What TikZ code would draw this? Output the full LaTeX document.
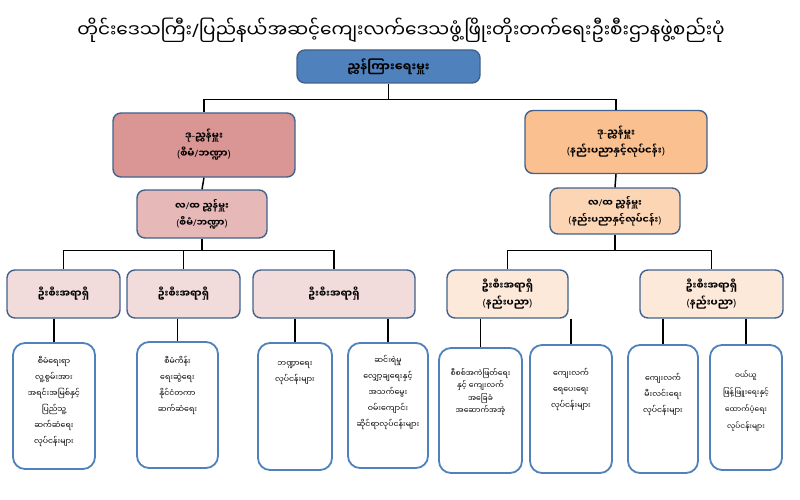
\documentclass[tikz,border=0pt]{standalone}
\usepackage{fontspec}
\newfontfamily\mmfont[Script=Myanmar]{Noto Sans Myanmar UI}
\newfontfamily\latinsans{Noto Sans}
\newcommand{\signo}[1]{{\latinsans #1}}
\usetikzlibrary{positioning}

\definecolor{azul}{HTML}{4F81BD}
\definecolor{borde}{HTML}{41628C}
\definecolor{rosaA}{HTML}{D99694}
\definecolor{rosaB}{HTML}{E6B9B8}
\definecolor{rosaC}{HTML}{F2DCDB}
\definecolor{naranjaA}{HTML}{FAC090}
\definecolor{naranjaB}{HTML}{FCD5B5}
\definecolor{naranjaC}{HTML}{FDE9D9}

\begin{document}
\begin{tikzpicture}[x=1pt, y=-1pt, font=\mmfont,
    cargo/.style={draw=borde, line width=1.4pt, rounded corners=8pt, align=center, inner sep=0pt},
    hoja/.style={draw=azul, line width=1.8pt, rounded corners=12pt, fill=white, inner sep=0pt},
    textohoja/.style={anchor=north, align=center, inner sep=0pt, font=\mmfont\fontsize{7.8}{16}\selectfont},
    linea/.style={line width=1.5pt}]
            \useasboundingbox (0,0) rectangle (800,500);

            % Titulo
            \node[font=\mmfont\fontsize{18.5}{20}\selectfont] (titulo) at (401,30) {တိုင်းဒေသကြီး\signo{/}ပြည်နယ်အဆင့်ကျေးလက်ဒေသဖွံ့ဖြိုးတိုးတက်ရေးဦးစီးဌာနဖွဲ့စည်းပုံ};

            % Niveles superiores
            \node[cargo, fill=azul, minimum width=183, minimum height=33, font=\mmfont\bfseries\fontsize{12}{14}\selectfont] (jefe) at (388.5,66.5) {ညွှန်ကြားရေးမှူး};
            \node[cargo, fill=rosaA, minimum width=182, minimum height=64, font=\mmfont\bfseries\fontsize{10}{18}\selectfont] (subA) at (204,145) {ဒု\signo{-}ညွှန်မှူး\\\signo{(}စီမံ\signo{/}ဘဏ္ဍာ\signo{)}};
            \node[cargo, fill=naranjaA, minimum width=182, minimum height=63, font=\mmfont\bfseries\fontsize{10}{18}\selectfont] (subB) at (616,142) {ဒု\signo{-}ညွှန်မှူး\\\signo{(}နည်းပညာနှင့်လုပ်ငန်း\signo{)}};
            \node[cargo, fill=rosaB, minimum width=130, minimum height=48, font=\mmfont\bfseries\fontsize{9.5}{17}\selectfont] (lfA) at (202,214) {လ\signo{/}ထ ညွှန်မှူး\\\signo{(}စီမံ\signo{/}ဘဏ္ဍာ\signo{)}};
            \node[cargo, fill=naranjaB, minimum width=130, minimum height=46, font=\mmfont\bfseries\fontsize{9.5}{17}\selectfont] (lfB) at (615,211) {လ\signo{/}ထ ညွှန်မှူး\\\signo{(}နည်းပညာနှင့်လုပ်ငန်း\signo{)}};

            % Oficiales
            \node[cargo, fill=rosaC, minimum width=113, minimum height=48, font=\mmfont\bfseries\fontsize{10}{17}\selectfont] (ofA) at (63.5,294) {ဦးစီးအရာရှိ};
            \node[cargo, fill=rosaC, minimum width=113, minimum height=48, font=\mmfont\bfseries\fontsize{10}{17}\selectfont] (ofB) at (183.5,294) {ဦးစီးအရာရှိ};
            \node[cargo, fill=rosaC, minimum width=162, minimum height=48, font=\mmfont\bfseries\fontsize{10}{17}\selectfont] (ofC) at (334,294) {ဦးစီးအရာရှိ};
            \node[cargo, fill=naranjaC, minimum width=121, minimum height=48, font=\mmfont\bfseries\fontsize{10}{17}\selectfont] (ofD) at (507.5,294) {ဦးစီးအရာရှိ\\\signo{(}နည်းပညာ\signo{)}};
            \node[cargo, fill=naranjaC, minimum width=143, minimum height=48, font=\mmfont\bfseries\fontsize{10}{17}\selectfont] (ofE) at (711.5,294) {ဦးစီးအရာရှိ\\\signo{(}နည်းပညာ\signo{)}};

            % Secciones
            \node[hoja, minimum width=82, minimum height=126] (hA) at (54,406) {};
            \node[hoja, minimum width=81, minimum height=126] (hB) at (177.5,405) {};
            \node[hoja, minimum width=74, minimum height=127] (hC) at (295,406.5) {};
            \node[hoja, minimum width=80, minimum height=125] (hD) at (388,405.5) {};
            \node[hoja, minimum width=83, minimum height=125] (hE) at (480.5,410.5) {};
            \node[hoja, minimum width=82, minimum height=128] (hF) at (571,409) {};
            \node[hoja, minimum width=70, minimum height=128] (hG) at (663,409) {};
            \node[hoja, minimum width=72, minimum height=125] (hH) at (746,407.5) {};

            \node[textohoja, below=14pt of hA.north] (tA) {စီမံရေးရာ\\လူ့စွမ်းအား\\အရင်းအမြစ်နှင့်\\ပြည်သူ့\\ဆက်ဆံရေး\\လုပ်ငန်းများ};
            \node[textohoja, below=15pt of hB.north] (tB) {စီမံကိန်း\\ရေးဆွဲရေး\\နိုင်ငံတကာ\\ဆက်ဆံရေး};
            \node[textohoja, below=19pt of hC.north] (tC) {ဘဏ္ဍာရေး\\လုပ်ငန်းများ};
            \node[textohoja, below=13pt of hD.north] (tD) {ဆင်းရဲမှု\\လျှော့ချရေးနှင့်\\အသက်မွေး\\ဝမ်းကျောင်း\\ဆိုင်ရာလုပ်ငန်းများ};
            \node[textohoja, below=21pt of hE.north, font=\mmfont\fontsize{7.6}{12.5}\selectfont] (tE) {စီစစ်အကဲဖြတ်ရေး\\နှင့် ကျေးလက်\\အခြေခံ\\အဆောက်အအုံ};
            \node[textohoja, below=24pt of hF.north] (tF) {ကျေးလက်\\ရေပေးရေး\\လုပ်ငန်းများ};
            \node[textohoja, below=29pt of hG.north] (tG) {ကျေးလက်\\မီးလင်းရေး\\လုပ်ငန်းများ};
            \node[textohoja, below=26pt of hH.north, font=\mmfont\fontsize{7.4}{17}\selectfont] (tH) {ဝယ်ယူ\\ဖြန့်ဖြူးရေးနှင့်\\ထောက်ပံ့ရေး\\လုပ်ငန်းများ};

            % Conexiones
            \draw[linea] (jefe.south) -- ++(0,16) coordinate (barra1);
            \draw[linea] (subA.north) |- (barra1) -| (subB.north);
            \draw[linea] (subA.south) -- (lfA.north);
            \draw[linea] (subB.south) -- (lfB.north);
            \draw[linea] (lfA.south) -- ++(0,12) coordinate (barra2);
            \draw[linea] (ofA.north) |- (barra2) -| (ofC.north);
            \draw[linea] (ofB.north) -- (ofB.north |- barra2);
            \draw[linea] (lfB.south) -- ++(0,16) coordinate (barra3);
            \draw[linea] (ofD.north) |- (barra3) -| (ofE.north);
            \draw[linea] (hA.north |- ofA.south) -- (hA.north);
            \draw[linea] (hB.north |- ofB.south) -- (hB.north);
            \draw[linea] (hC.north |- ofC.south) -- (hC.north);
            \draw[linea] (hD.north |- ofC.south) -- (hD.north);
            \draw[linea] (hE.north |- ofD.south) -- (hE.north);
            \draw[linea] (hF.north |- ofD.south) -- (hF.north);
            \draw[linea] (hG.north |- ofE.south) -- (hG.north);
            \draw[linea] (hH.north |- ofE.south) -- (hH.north);
        \end{tikzpicture}
\end{document}
